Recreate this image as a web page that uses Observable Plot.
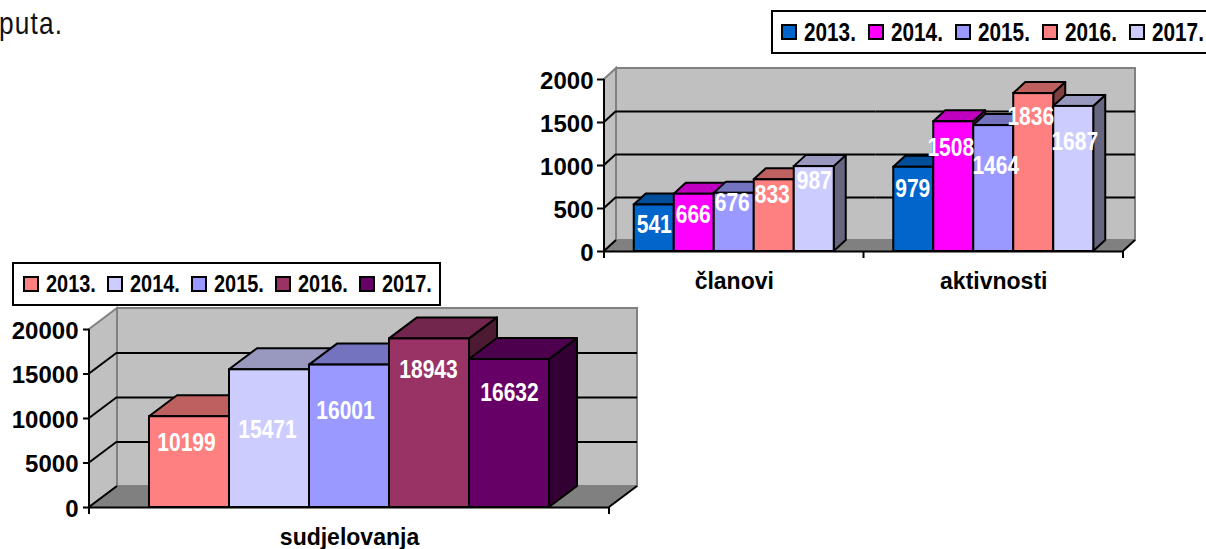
<!DOCTYPE html>
<html lang="hr">
<head>
<meta charset="utf-8">
<script src="https://cdn.jsdelivr.net/npm/d3@7"></script>
<script src="https://cdn.jsdelivr.net/npm/@observablehq/plot@0.6"></script>
<style>
  html, body { margin: 0; padding: 0; background: #fff; }
  #page { position: relative; width: 1206px; height: 549px; overflow: hidden; font-family: "Liberation Sans", sans-serif; }
  #page > * { position: absolute; }
  .note { left: -1px; top: 3px; font-size: 32px; line-height: 40px; letter-spacing: 1.4px; color: #111; transform: scaleX(0.82); transform-origin: left top; }
  .legend { box-sizing: border-box; border: 2px solid #000; background: #fff; font-weight: 700; color: #000; }
  .legend span.item { position: absolute; top: 0; height: 100%; display: flex; align-items: center; white-space: nowrap; }
  .legend i { display: inline-block; box-sizing: border-box; width: 16px; height: 16px; border: 2px solid #000; margin-right: 7px; }
  .legend b { display: inline-block; transform: scaleX(0.83); transform-origin: left center; }
</style>
</head>
<body>
<div id="page"></div>
<script>
// ---- data ----
const yearsTop = ["2013.", "2014.", "2015.", "2016.", "2017."];
const groupsTop = ["članovi", "aktivnosti"];
const clanovi = [541, 666, 676, 833, 987];
const aktivnosti = [979, 1508, 1464, 1836, 1687];
const coloursTop = ["#0066CC", "#FF00FF", "#9999FF", "#FF8080", "#CCCCFF"];
const ticksTop = [0, 500, 1000, 1500, 2000];

const yearsBottom = ["2013.", "2014.", "2015.", "2016.", "2017."];
const groupsBottom = ["sudjelovanja"];
const sudjelovanja = [10199, 15471, 16001, 18943, 16632];
const coloursBottom = ["#FF8080", "#CCCCFF", "#9999FF", "#993366", "#660066"];
const ticksBottom = [0, 5000, 10000, 15000, 20000];

// ---- hand placement of the data labels (pixels from the top of the bar) ----
const nudgeTop = [
  [[0, 20], [-1, 21], [-2, 10], [-2, 15], [0, 14]],
  [[-1, 22], [-3, 26], [2, 40], [-3, 23], [1, 36]]
];
const nudgeBottom = [[[-3, 26], [-2, 60], [-4, 46], [-1, 31], [0, 34]]];

const FONT = '"Liberation Sans", sans-serif';
const page = document.getElementById("page");

function note(text) {
  const d = document.createElement("div");
  d.className = "note";
  d.textContent = text;
  page.append(d);
}

function legend(years, colours, box) {
  const d = document.createElement("div");
  d.className = "legend";
  Object.assign(d.style, {left: box.left + "px", top: box.top + "px", width: box.width + "px", height: box.height + "px", fontSize: box.fontSize + "px"});
  years.forEach((y, i) => {
    const s = document.createElement("span");
    s.className = "item";
    s.style.left = box.first + i * box.step + "px";
    const sw = document.createElement("i");
    sw.style.background = colours[i];
    const t = document.createElement("b");
    t.textContent = y;
    s.append(sw, t);
    d.append(s);
  });
  page.append(d);
}

function chart({years, groups, series, colours, ticks, nudges, left, top, width, height, margin, depth, fontSize, labelSize, tickSize, tickPadding, fxFont, fxPad, outer}) {
  const [dx, dy] = depth;
  const rows = groups.flatMap((g, gi) => years.map((year, i) => ({
    group: g, year, value: series[gi][i], ndx: nudges[gi][i][0], ndy: nudges[gi][i][1]
  })));
  const x0 = margin.left, x1 = width - margin.right;
  const svgEl = (n, attrs) => {
    const e = document.createElementNS("http://www.w3.org/2000/svg", n);
    for (const k in attrs) e.setAttribute(k, attrs[k]);
    return e;
  };
  let chromeDone = false;
  const chrome = (index, scales) => {
    const g = svgEl("g", {});
    if (chromeDone) return g;
    chromeDone = true;
    const y0 = scales.y(ticks[0]), yT = scales.y(ticks[ticks.length - 1]);
    const poly = (pts, fill, stroke, sw) => g.append(svgEl("polygon", {points: pts.map(p => p.join(",")).join(" "), fill, stroke, "stroke-width": sw}));
    const line = (a, b, stroke, sw) => g.append(svgEl("line", {x1: a[0], y1: a[1], x2: b[0], y2: b[1], stroke, "stroke-width": sw}));
    // back wall, left wall, floor
    poly([[x0 + dx, yT + dy], [x1 + dx, yT + dy], [x1 + dx, y0 + dy], [x0 + dx, y0 + dy]], "#C0C0C0", "#808080", 2);
    poly([[x0, yT], [x0 + dx, yT + dy], [x0 + dx, y0 + dy], [x0, y0]], "#C0C0C0", "#808080", 2);
    poly([[x0, y0], [x1, y0], [x1 + dx, y0 + dy], [x0 + dx, y0 + dy]], "#808080", "#808080", 1);
    // tick stubs running up the left wall
    ticks.slice(0, -1).forEach(t => line([x0, scales.y(t)], [x0 + dx, scales.y(t) + dy], "#000", 2));
    line([x1, y0], [x1 + dx, y0 + dy], "#000", 2);
    line([x0, yT], [x0, y0], "#000", 2);
    // ticks under the x axis at the group edges
    d3.range(groups.length + 1).forEach(i => {
      const x = x0 + (x1 - x0) * i / groups.length;
      line([x, y0], [x, y0 + 7], "#000", 2);
    });
    return g;
  };
  const box3d = (index, scales, values, dimensions, context, next) => {
    const g = svgEl("g", {});
    const bw = scales.x.bandwidth();
    for (const i of index) {
      const xl = values.x[i], xr = xl + bw;
      const yt = Math.min(values.y1[i], values.y2[i]), yb = Math.max(values.y1[i], values.y2[i]);
      const c = d3.rgb(values.fill[i]);
      const shade = k => d3.rgb(c.r * k, c.g * k, c.b * k).formatHex();
      const common = {stroke: "#000", "stroke-width": 2, "stroke-linejoin": "round"};
      g.append(svgEl("polygon", {points: `${xr},${yt} ${xr + dx},${yt + dy} ${xr + dx},${yb + dy} ${xr},${yb}`, fill: shade(0.5), ...common}));
      g.append(svgEl("polygon", {points: `${xl},${yt} ${xl + dx},${yt + dy} ${xr + dx},${yt + dy} ${xr},${yt}`, fill: shade(0.75), ...common}));
    }
    g.append(next(index, scales, values, dimensions, context));
    return g;
  };
  const tagLabel = (index, scales, values, dimensions, context, next) => {
    const g = next(index, scales, values, dimensions, context);
    g.setAttribute("class", "data-label");
    return g;
  };
  const plot = Plot.plot({
    width, height,
    marginLeft: margin.left, marginRight: margin.right, marginTop: margin.top, marginBottom: margin.bottom,
    style: {fontFamily: FONT, fontWeight: 700, overflow: "visible", background: "transparent", color: "#000"},
    x: {domain: years, paddingInner: 0, paddingOuter: outer, round: false, axis: null},
    fx: {domain: groups, padding: 0, round: false},
    y: {domain: [ticks[0], ticks[ticks.length - 1]]},
    color: {domain: years, range: colours},
    marks: [
      chrome,
      Plot.ruleY(ticks.slice(1, -1), {dx, dy, stroke: "#000", strokeWidth: 2}),
      Plot.barY(rows, {fx: "group", x: "year", y: "value", fill: "year", stroke: "#000", strokeWidth: 2, render: box3d}),
      Plot.ruleY([0], {stroke: "#000", strokeWidth: 2}),
      ...rows.map(r => Plot.text([r], {
        fx: "group", x: "year", y: "value", text: d => String(d.value),
        dx: r.ndx, dy: r.ndy, fill: "#fff", fontSize: labelSize, fontWeight: 700, render: tagLabel
      })),
      Plot.axisY({ticks, tickSize, strokeWidth: 2, stroke: "#000", fill: "none", label: null}),
      Plot.axisY({ticks, tickFormat: "d", tickSize, tickPadding, fontSize, dy: 1.5, stroke: "none", fill: "#000", label: null}),
      Plot.axisFx({anchor: "bottom", tickSize: 0, tickPadding: fxPad, fontSize: fxFont, label: null, fill: "#000"})
    ]
  });
  plot.style.position = "absolute";
  plot.style.left = left + "px";
  plot.style.top = top + "px";
  page.append(plot);
  // the reference's data labels are a condensed bold
  plot.querySelectorAll('.data-label text').forEach(t => {
    t.setAttribute("textLength", t.getComputedTextLength() * 0.84);
    t.setAttribute("lengthAdjust", "spacingAndGlyphs");
  });
}

note("puta.");

chart({
  years: yearsTop, groups: groupsTop, series: [clanovi, aktivnosti], colours: coloursTop, ticks: ticksTop, nudges: nudgeTop,
  left: 530, top: 55, width: 676, height: 245,
  margin: {left: 74, right: 83, top: 24, bottom: 49},
  depth: [12, -11], fontSize: 24, labelSize: 25, tickSize: 7, tickPadding: 4, fxFont: 23, fxPad: 21, outer: 0.744
});
legend(yearsTop, coloursTop, {left: 771, top: 10, width: 440, height: 44, first: 8, step: 87, fontSize: 25});

chart({
  years: yearsBottom, groups: groupsBottom, series: [sudjelovanja], colours: coloursBottom, ticks: ticksBottom, nudges: nudgeBottom,
  left: 0, top: 300, width: 650, height: 249,
  margin: {left: 89, right: 41, top: 29, bottom: 42},
  depth: [28, -21], fontSize: 24, labelSize: 25, tickSize: 6, tickPadding: 5, fxFont: 23, fxPad: 21, outer: 0.75
});
legend(yearsBottom, coloursBottom, {left: 12, top: 262, width: 429, height: 44, first: 9, step: 84, fontSize: 24});
</script>
</body>
</html>
